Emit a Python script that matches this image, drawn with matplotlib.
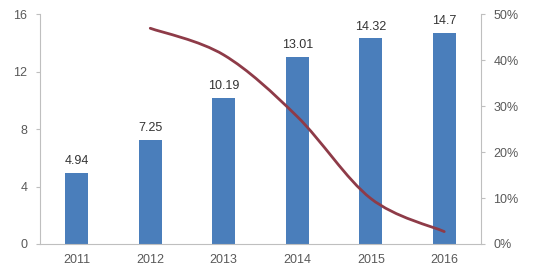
import matplotlib
matplotlib.use("Agg")
import matplotlib.pyplot as plt
from matplotlib.path import Path
from matplotlib.patches import PathPatch
from matplotlib.ticker import FuncFormatter

plt.rcParams['font.family'] = ['Liberation Sans', 'DejaVu Sans']

years = ['2011', '2012', '2013', '2014', '2015', '2016']
values = [4.94, 7.25, 10.19, 13.01, 14.32, 14.7]
# growth rate (%), starts in 2012
growth_years = [1, 2, 3, 4, 5]
growth = [46.9, 41.1, 27.7, 9.9, 2.7]

bar_color = '#4A7EBB'
line_color = '#8E3B48'
axis_color = '#BFBFBF'
text_color = '#595959'

fig = plt.figure(figsize=(5.35, 2.75), dpi=100)
ax = fig.add_axes([40 / 535, 1 - 244 / 275, 441 / 535, 230 / 275])

x = list(range(len(years)))
ax.bar(x, values, width=0.31, color=bar_color, zorder=2)
for xi, v in zip(x, values):
    ax.annotate(f'{v:g}', (xi, v), xytext=(0, 4), textcoords='offset points',
                ha='center', va='bottom', fontsize=9, color='#333333')

ax.set_xlim(-0.5, 5.5)
ax.set_ylim(0, 16)
ax.set_yticks([0, 4, 8, 12, 16])
ax.set_xticks(x)
ax.set_xticklabels(years)

for s in ['top', 'right']:
    ax.spines[s].set_visible(False)
for s in ['left', 'bottom']:
    ax.spines[s].set_color(axis_color)
    ax.spines[s].set_linewidth(0.8)
ax.tick_params(axis='y', colors=axis_color, labelcolor=text_color,
               labelsize=9, length=3, width=0.8, pad=6)
ax.tick_params(axis='x', length=0, labelcolor=text_color, labelsize=9, pad=7)

ax2 = ax.twinx()
ax2.set_ylim(0, 50)
ax2.set_yticks([0, 10, 20, 30, 40, 50])
ax2.yaxis.set_major_formatter(FuncFormatter(lambda v, p: f'{v:.0f}%'))
for s in ['top', 'left', 'bottom']:
    ax2.spines[s].set_visible(False)
ax2.spines['right'].set_color(axis_color)
ax2.spines['right'].set_linewidth(0.8)
ax2.tick_params(axis='y', colors=axis_color, labelcolor=text_color,
                labelsize=9, length=3, width=0.8, pad=6)

# smoothed line (Catmull-Rom style bezier through the data points)
pts = list(zip(growth_years, growth))
verts = [pts[0]]
codes = [Path.MOVETO]
for i in range(len(pts) - 1):
    p0 = pts[i - 1] if i > 0 else pts[i]
    p1 = pts[i]
    p2 = pts[i + 1]
    p3 = pts[i + 2] if i + 2 < len(pts) else pts[i + 1]
    c1 = (p1[0] + (p2[0] - p0[0]) / 6, p1[1] + (p2[1] - p0[1]) / 6)
    c2 = (p2[0] - (p3[0] - p1[0]) / 6, p2[1] - (p3[1] - p1[1]) / 6)
    verts += [c1, c2, p2]
    codes += [Path.CURVE4] * 3
ax2.add_patch(PathPatch(Path(verts, codes), facecolor='none',
                        edgecolor=line_color, lw=2.0, capstyle='round', zorder=3))

fig.savefig('out.png', dpi=100)
